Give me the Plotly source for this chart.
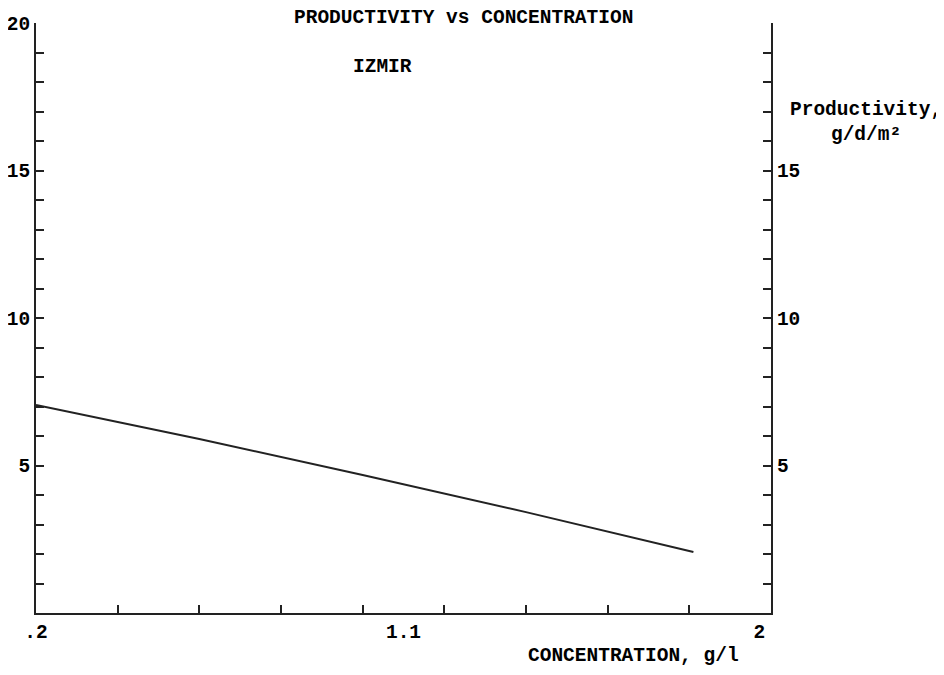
import plotly.graph_objects as go

# Data
concentration = [0.2, 0.6, 1.0, 1.4, 1.81]
productivity = [7.05, 5.90, 4.68, 3.42, 2.07]

x_label_vals = [0.2, 1.1, 2.0]
x_label_text = [".2", "1.1", "2\u00a0\u00a0"]
x_minor_vals = [0.4, 0.6, 0.8, 1.0, 1.2, 1.4, 1.6, 1.8]
y_left_vals = [5, 10, 15, 20]
y_right_vals = [5, 10, 15]

title_text = "PRODUCTIVITY vs CONCENTRATION"
subtitle_text = "IZMIR"
x_title = "CONCENTRATION, g/l"
y_title = "Productivity,<br>g/d/m²"

FONT = "Liberation Mono"
INK = "#222222"
font = dict(family=FONT, size=19.5, color="black", weight="bold")

# page body has an 8px margin; plot area in page pixels: x 36..771, y 23..612.7
OFF = 8
PL, PR, PT, PB = 36, 771, 23, 612.7
W, H = 944 - OFF, 675 - OFF

fig = go.Figure()
fig.add_trace(go.Scatter(
    x=concentration, y=productivity, mode="lines",
    line=dict(color=INK, width=2), showlegend=False, hoverinfo="skip"))
# invisible trace to activate right axis
fig.add_trace(go.Scatter(x=[0.2], y=[0], yaxis="y2", mode="markers",
                         marker=dict(opacity=0), showlegend=False, hoverinfo="skip"))

pw, ph = PR - PL, PB - PT


def px(x):
    return (x - PL) / pw


def py(y):
    return (PB - y) / ph


fig.update_layout(
    width=W, height=H,
    margin=dict(l=PL - OFF, r=W - (PR - OFF), t=PT - OFF, b=H - (PB - OFF), autoexpand=False),
    paper_bgcolor="white", plot_bgcolor="white",
    font=font,
    xaxis=dict(
        range=[0.2, 2.0], showgrid=False, zeroline=False, automargin=False,
        showline=True, linecolor=INK, linewidth=2,
        tickmode="array", tickvals=x_label_vals, ticktext=x_label_text,
        ticks="", tickfont=font,
        minor=dict(tickmode="array", tickvals=x_minor_vals, ticks="inside",
                   ticklen=8, tickwidth=2, tickcolor=INK, showgrid=False),
    ),
    yaxis=dict(
        range=[0, 20], showgrid=False, zeroline=False, automargin=False,
        showline=True, linecolor=INK, linewidth=2,
        tickmode="array", tickvals=y_left_vals, ticks="inside",
        ticklen=8, tickwidth=2, tickcolor=INK, tickfont=font,
        minor=dict(dtick=1, tick0=0, ticks="inside", ticklen=8, tickwidth=2,
                   tickcolor=INK, showgrid=False),
    ),
    yaxis2=dict(
        range=[0, 20], overlaying="y", side="right", showgrid=False, zeroline=False,
        automargin=False,
        showline=True, linecolor=INK, linewidth=2,
        tickmode="array", tickvals=y_right_vals, ticks="inside",
        ticklen=8, tickwidth=2, tickcolor=INK, tickfont=font,
        minor=dict(dtick=1, tick0=0, ticks="inside", ticklen=8, tickwidth=2,
                   tickcolor=INK, showgrid=False),
    ),
    annotations=[
        dict(text=title_text, x=px(463), y=py(18),
             xref="paper", yref="paper",
             showarrow=False, xanchor="center", yanchor="middle", font=font),
        dict(text=subtitle_text, x=px(382), y=py(67),
             xref="paper", yref="paper",
             showarrow=False, xanchor="center", yanchor="middle", font=font),
        dict(text=x_title, x=px(633), y=py(655.5),
             xref="paper", yref="paper",
             showarrow=False, xanchor="center", yanchor="middle", font=font),
        dict(text=y_title, x=px(788), y=py(122),
             xref="paper", yref="paper",
             showarrow=False, xanchor="left", yanchor="middle", align="center",
             font=font),
    ],
)

fig.write_html("out.html")
